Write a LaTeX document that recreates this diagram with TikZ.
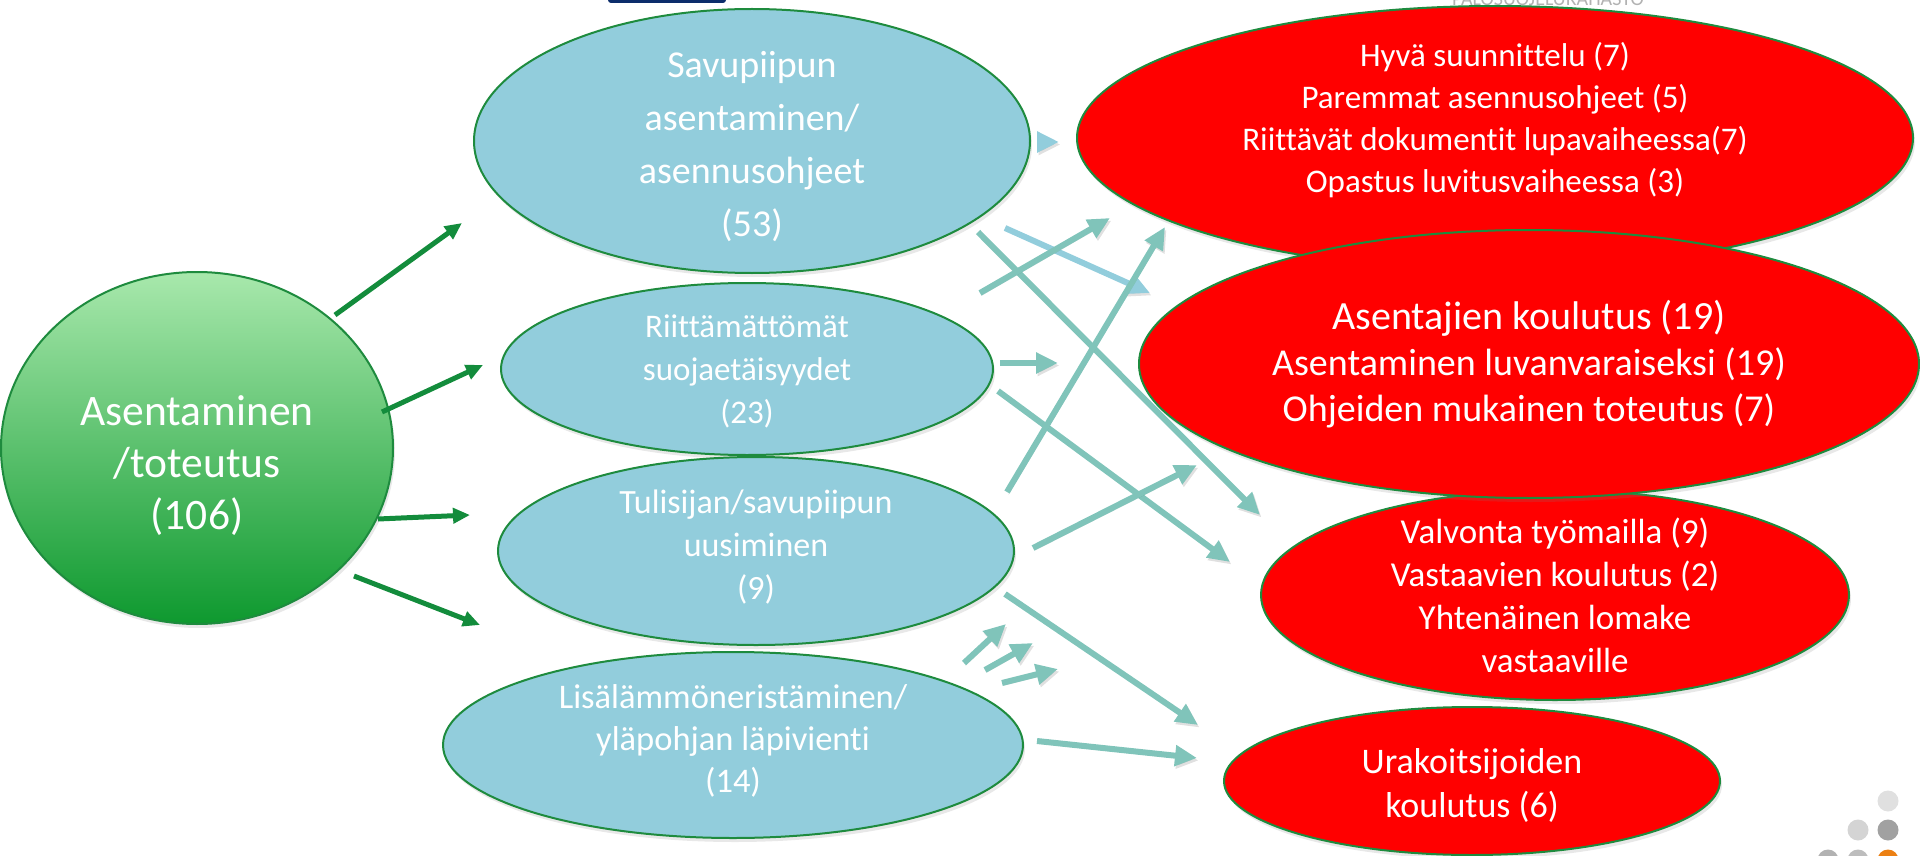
\documentclass[tikz,border=0pt]{standalone}
\usepackage{fontspec}
\setmainfont{Carlito}[Ligatures=NoCommon]
\usepackage{tikz}
\usetikzlibrary{arrows.meta,shapes.geometric,shadows}
\definecolor{aqua}{HTML}{92CDDC}
\definecolor{tealline}{HTML}{80C4BA}
\definecolor{rimgreen}{HTML}{1E8B3E}
\definecolor{arrowgreen}{HTML}{138C3C}
\definecolor{topgreen}{HTML}{A8E8AC}
\definecolor{botgreen}{HTML}{0E992F}
\definecolor{navy}{HTML}{0C2D6B}
\newcommand{\fsz}[2]{\fontsize{#1}{#2}\selectfont}

\begin{document}
\begin{tikzpicture}[x=1pt,y=-1pt,
   blob/.style={ellipse,draw=rimgreen,line width=2pt,inner sep=0pt,drop shadow={opacity=0.18,shadow xshift=2pt,shadow yshift=-4pt}},
   topic/.style={blob,top color=topgreen,bottom color=botgreen},
   cause/.style={blob,fill=aqua},
   fix/.style={blob,fill=red},
   txt/.style={text=white,align=center,inner sep=0pt},
   root/.style={-{Triangle[length=17pt,width=15pt]},line width=5pt,arrowgreen},
   link/.style={-{Triangle[length=22pt,width=20pt]},line width=6pt,tealline,
      preaction={draw=black,opacity=0.12,transform canvas={xshift=1.5pt,yshift=-2.5pt}}},
   pale/.style={link,aqua}]
\useasboundingbox (0,0) rectangle (1920,856);
\fill[navy,rounded corners=3pt] (608,-8) rectangle (726,3);
\node[text=black!30,font=\fsz{20}{20},anchor=base west,inner sep=0pt] (logo) at (1452,6) {PALOSUOJELURAHASTO};
\node[topic,minimum width=392pt,minimum height=352pt] (main) at (197,448) {};
\node[cause,minimum width=556pt,minimum height=264pt] (sav) at (752,141) {};
\node[cause,minimum width=492pt,minimum height=172pt] (suo) at (747,369) {};
\node[cause,minimum width=516pt,minimum height=188pt] (tul) at (756,551) {};
\node[cause,minimum width=580pt,minimum height=186pt] (lis) at (733,745) {};
\node[fix,minimum width=836pt,minimum height=264pt] (hyva) at (1495,138) {};
\node[fix,minimum width=588pt,minimum height=210pt] (valv) at (1555,595) {};
\node[fix,minimum width=496pt,minimum height=148pt] (urak) at (1472,781) {};
\node[fix,minimum width=780pt,minimum height=268pt] (asen) at (1529,364) {};
\node[txt,font=\fsz{43.5}{52}] (main-t) at ([yshift=-18pt]main) {Asentaminen\\/toteutus\\(106)};
\node[txt,font=\fsz{38}{53}] (sav-t) at ([yshift=-6pt]sav) {Savupiipun\\asentaminen/\\asennusohjeet\\(53)};
\node[txt,font=\fsz{33}{43}] (suo-t) at ([yshift=-2pt]suo) {Riittämättömät\\suojaetäisyydet\\(23)};
\node[txt,font=\fsz{34}{43}] (tul-t) at ([yshift=4pt]tul) {Tulisijan/savupiipun\\uusiminen\\(9)};
\node[txt,font=\fsz{34.5}{42}] (lis-t) at ([yshift=4pt]lis) {Lisälämmöneristäminen/\\yläpohjan läpivienti\\(14)};
\node[txt,font=\fsz{33}{42}] (hyva-t) at ([yshift=18pt]hyva) {Hyvä suunnittelu (7)\\Paremmat asennusohjeet (5)\\Riittävät dokumentit lupavaiheessa(7)\\Opastus luvitusvaiheessa (3)};
\node[txt,font=\fsz{38}{46}] (asen-t) at (asen) {{\fsz{40}{46}Asentajien koulutus (19)}\\Asentaminen luvanvaraiseksi (19)\\Ohjeiden mukainen toteutus (7)};
\node[txt,font=\fsz{35}{43}] (valv-t) at (valv) {Valvonta työmailla (9)\\Vastaavien koulutus (2)\\Yhtenäinen lomake\\vastaaville};
\node[txt,font=\fsz{36}{44}] (urak-t) at ([yshift=-4pt]urak) {Urakoitsijoiden\\koulutus (6)};
\coordinate (g1) at (335,315); \coordinate (g1e) at (462,223);
\coordinate (g2) at (382,412); \coordinate (g2e) at (483,365);
\coordinate (g3) at (378,519); \coordinate (g3e) at (470,515);
\coordinate (g4) at (354,576); \coordinate (g4e) at (480,625);
\coordinate (a1) at (978,232); \coordinate (a1e) at (1260,515);
\coordinate (b1) at (1005,228); \coordinate (b1e) at (1150,293);
\coordinate (c1) at (980,293); \coordinate (c1e) at (1110,218);
\coordinate (d1) at (1000,363); \coordinate (d1e) at (1058,363);
\coordinate (e1) at (998,391); \coordinate (e1e) at (1230,562);
\coordinate (f1) at (1007,492); \coordinate (f1e) at (1165,227);
\coordinate (h1) at (1033,548); \coordinate (h1e) at (1197,465);
\coordinate (k1) at (1005,594); \coordinate (k1e) at (1198,725);
\coordinate (m1) at (964,663); \coordinate (m1e) at (1006,624);
\coordinate (m2) at (985,670); \coordinate (m2e) at (1033,643);
\coordinate (m3) at (1002,683); \coordinate (m3e) at (1058,669);
\coordinate (l1) at (1037,741); \coordinate (l1e) at (1197,758);
\coordinate (s1) at (1037,142); \coordinate (s1e) at (1059,142);
\draw[root] (g1) -- (g1e);
\draw[root] (g2) -- (g2e);
\draw[root] (g3) -- (g3e);
\draw[root] (g4) -- (g4e);
\draw[pale] (s1) -- (s1e);
\draw[pale] (b1) -- (b1e);
\draw[link] (a1) -- (a1e);
\draw[link] (c1) -- (c1e);
\draw[link] (d1) -- (d1e);
\draw[link] (e1) -- (e1e);
\draw[link] (f1) -- (f1e);
\draw[link] (h1) -- (h1e);
\draw[link] (k1) -- (k1e);
\draw[link] (m1) -- (m1e);
\draw[link] (m2) -- (m2e);
\draw[link] (m3) -- (m3e);
\draw[link] (l1) -- (l1e);
\fill[black!12] (1888,801) circle[radius=10.5pt];
\fill[black!17] (1858,830) circle[radius=10.5pt];
\fill[black!37] (1888,830) circle[radius=10.5pt];
\fill[black!30] (1828,860) circle[radius=10.5pt];
\fill[black!26] (1858,860) circle[radius=10.5pt];
\fill[orange!70!brown] (1888,860) circle[radius=10.5pt];
\end{tikzpicture}
\end{document}
